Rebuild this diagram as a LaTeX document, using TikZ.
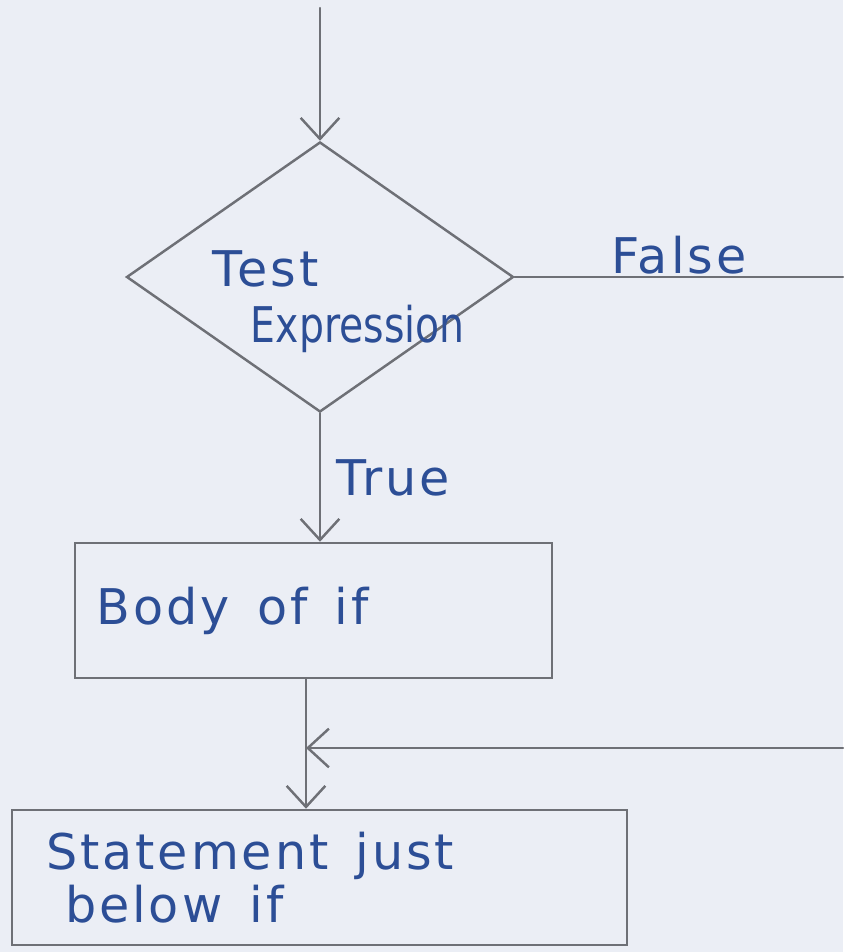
\documentclass[tikz,border=0pt]{standalone}
\usepackage{fontspec}
\setmainfont[LetterSpace=6]{DejaVu Sans}
\newfontfamily\handnarrow[FakeStretch=0.8]{DejaVu Sans}
\newcommand\wgap{\hspace{0.55em}}
\usetikzlibrary{arrows.meta,shapes.geometric,positioning}
\definecolor{pencil}{RGB}{110,112,118}
\definecolor{ink}{RGB}{44,78,150}
\definecolor{paper}{RGB}{235,238,245}
\begin{document}
\begin{tikzpicture}[>={Straight Barb[length=6pt,width=11pt]},line width=0.7pt,line cap=round,color=pencil,
	font=\fontsize{14}{15}\selectfont,every node/.style={text=ink},
	decision/.style={diamond,draw,minimum width=3.87cm,minimum height=2.7cm,inner sep=0pt},
	block/.style={rectangle,draw,align=left,minimum height=1.35cm}]
	\fill[paper] (0,0) rectangle (8.43,9.52);
	\coordinate (start) at (3.20,9.44);
	\node[decision] (test) at (3.20,6.75) {};
	\node[anchor=base west] (testtxt) at (2.00,6.65) {Test};
	\node[anchor=base west] (exprtxt) at (2.38,6.09) {\handnarrow Expression};
	\node[block,minimum width=4.77cm,text width=4.33cm,inner xsep=0.22cm] (body) at (3.135,3.415) {\raisebox{2pt}{Body\wgap of\wgap if}};
	\node[block,minimum width=6.15cm,text width=5.47cm,inner xsep=0.34cm] (stmt) at (3.195,0.745) {Statement\wgap just\\\hspace*{0.19cm}below\wgap if};
	\coordinate (fend) at (8.43,6.75);
	\coordinate (rend) at (8.43,2.04);
	\coordinate (join) at (3.06,2.04);
	\draw[->] (start)--(test.north);
	\draw (test.east)--(fend) node[midway,above=-3pt]{False};
	\draw[->] (test.south)--(test.south|-body.north) node[midway,right=1pt]{True};
	\draw[->] (body.south-|join)--(join|-stmt.north);
	\draw[->] (rend)--(join);
\end{tikzpicture}
\end{document}
